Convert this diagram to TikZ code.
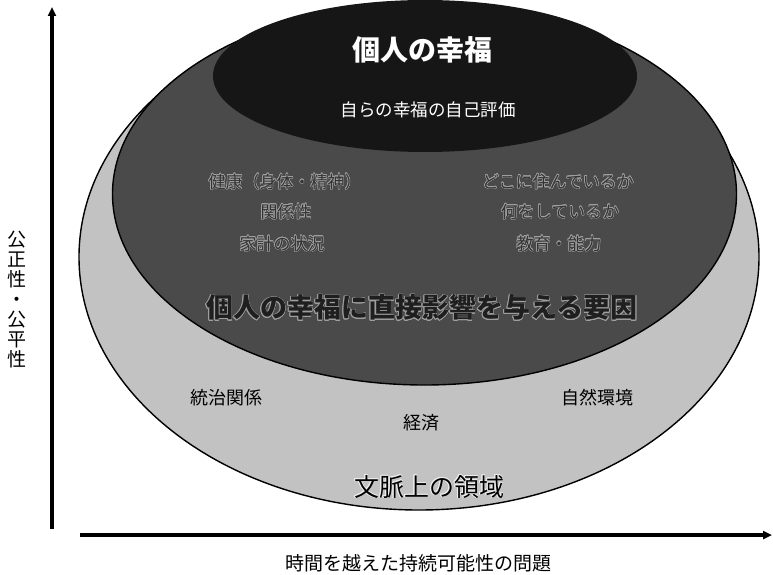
\documentclass[tikz,border=0pt]{standalone}
\usepackage{fontspec}
\setmainfont{Noto Sans CJK JP}
\usepackage{contour}
\contourlength{0.5pt}
\usetikzlibrary{arrows.meta}
\definecolor{outerfill}{HTML}{C2C2C2}
\definecolor{midfill}{HTML}{4A4A4A}
\definecolor{topfill}{HTML}{161616}
\definecolor{innertext}{HTML}{333333}
\definecolor{innerglow}{HTML}{A0A0A0}
\begin{document}
\begin{tikzpicture}[x=1pt,y=-1pt,
  region/.style={draw=black,line width=1.4pt},
  axisline/.style={line width=4.5pt,-{Triangle[length=9pt,width=8pt]}},
  inlbl/.style={inner sep=0pt,text=innertext,font=\fontsize{17}{19}\selectfont},
  outlbl/.style={inner sep=0pt,text=black,font=\fontsize{18}{20}\selectfont},
  axlbl/.style={inner sep=0pt,text=black,font=\fontsize{19}{20}\selectfont}]
\useasboundingbox (0,0) rectangle (773,575);
% regions
\draw[region,fill=outerfill] (419,257) ellipse [x radius=340pt,y radius=253pt];
\draw[region,fill=midfill] (424.5,194) ellipse [x radius=312pt,y radius=191pt];
\fill[topfill] (425,76) ellipse [x radius=212pt,y radius=76pt];
% top ellipse texts
\node[inner sep=0pt,text=white,font=\fontsize{28}{30}\selectfont\bfseries] (title) at (422,50) {個人の幸福};
\node[inner sep=0pt,text=white,font=\fontsize{17.5}{19}\selectfont] (self) at (428,110) {自らの幸福の自己評価};
% middle ellipse texts
\node[inlbl] (health) at (285,182) {\contour{innerglow}{健康（身体・精神）}};
\node[inlbl] (rel) at (286,212) {\contour{innerglow}{関係性}};
\node[inlbl] (house) at (282,244) {\contour{innerglow}{家計の状況}};
\node[inlbl] (where) at (558,182) {\contour{innerglow}{どこに住んでいるか}};
\node[inlbl] (what) at (560,212) {\contour{innerglow}{何をしているか}};
\node[inlbl] (edu) at (559,244) {\contour{innerglow}{教育・能力}};
\node[inner sep=0pt,text=innertext!60!black,font=\fontsize{27}{29}\selectfont\bfseries] (factors) at (422,308) {\contour{innerglow}{個人の幸福に直接影響を与える要因}};
% outer ring texts
\node[outlbl] (gov) at (226,398) {統治関係};
\node[outlbl] (nature) at (597,398) {自然環境};
\node[outlbl] (econ) at (421,423) {経済};
\node[inner sep=0pt,text=black,font=\fontsize{25}{27}\selectfont] (context) at (429,487) {\contour{white!85!gray}{文脈上の領域}};
% axes
\coordinate (vbot) at (52,529);
\coordinate (vtop) at (52,7);
\coordinate (hleft) at (80,535);
\coordinate (hright) at (772,535);
\draw[axisline] (vbot) -- (vtop);
\draw[axisline] (hleft) -- (hright);
\node[axlbl,align=center] (ylab) at (17,300) {公\\正\\性\\・\\公\\平\\性};
\node[axlbl] (xlab) at (418,563) {時間を越えた持続可能性の問題};
\end{tikzpicture}
\end{document}
